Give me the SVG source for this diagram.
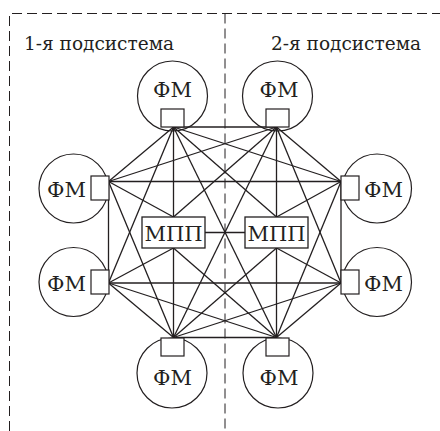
<svg xmlns="http://www.w3.org/2000/svg" width="440" height="431" viewBox="0 0 440 431">
<style>
.dash{fill:none;stroke:#231f20;stroke-width:1;stroke-dasharray:10 5}
.ln{stroke:#231f20;stroke-width:1.3;fill:none}
.circ{fill:none;stroke:#231f20;stroke-width:1.2}
.sq{fill:#fff;stroke:#231f20;stroke-width:1.2}
.box{fill:#fff;stroke:#231f20;stroke-width:1.3}
.t{font-family:"DejaVu Serif","Liberation Serif",serif;font-size:21px;fill:#231f20;text-anchor:middle}
.h{font-family:"DejaVu Serif","Liberation Serif",serif;font-size:18.5px;fill:#231f20}
</style>
<rect width="440" height="431" fill="#fff"/>
<g id="frame">
<path class="dash" d="M9.5,431 V13.5 H440"/>
<path class="dash" d="M225,13.5 V431"/>
<text class="h" x="24" y="50">1-я подсистема</text>
<text class="h" x="271" y="50">2-я подсистема</text>
</g>
<g id="connectors">
<line class="ln" x1="173.5" y1="127" x2="276.5" y2="127"/>
<line class="ln" x1="173.5" y1="127" x2="341" y2="181.5"/>
<line class="ln" x1="173.5" y1="127" x2="276.5" y2="337.5"/>
<line class="ln" x1="173.5" y1="127" x2="108.5" y2="283"/>
<line class="ln" x1="173.5" y1="127" x2="108.5" y2="181.5"/>
<line class="ln" x1="276.5" y1="127" x2="341" y2="181.5"/>
<line class="ln" x1="276.5" y1="127" x2="341" y2="283"/>
<line class="ln" x1="276.5" y1="127" x2="173.5" y2="337.5"/>
<line class="ln" x1="276.5" y1="127" x2="108.5" y2="181.5"/>
<line class="ln" x1="341" y1="181.5" x2="341" y2="283"/>
<line class="ln" x1="341" y1="181.5" x2="276.5" y2="337.5"/>
<line class="ln" x1="341" y1="181.5" x2="108.5" y2="181.5"/>
<line class="ln" x1="341" y1="283" x2="276.5" y2="337.5"/>
<line class="ln" x1="341" y1="283" x2="173.5" y2="337.5"/>
<line class="ln" x1="341" y1="283" x2="108.5" y2="283"/>
<line class="ln" x1="276.5" y1="337.5" x2="173.5" y2="337.5"/>
<line class="ln" x1="276.5" y1="337.5" x2="108.5" y2="283"/>
<line class="ln" x1="173.5" y1="337.5" x2="108.5" y2="283"/>
<line class="ln" x1="173.5" y1="337.5" x2="108.5" y2="181.5"/>
<line class="ln" x1="108.5" y1="283" x2="108.5" y2="181.5"/>
<line class="ln" x1="173.5" y1="217" x2="173.5" y2="127"/>
<line class="ln" x1="173.5" y1="217" x2="276.5" y2="127"/>
<line class="ln" x1="173.5" y1="217" x2="108.5" y2="181.5"/>
<line class="ln" x1="173.5" y1="248" x2="173.5" y2="337.5"/>
<line class="ln" x1="173.5" y1="248" x2="276.5" y2="337.5"/>
<line class="ln" x1="173.5" y1="248" x2="108.5" y2="283"/>
<line class="ln" x1="276.5" y1="217" x2="276.5" y2="127"/>
<line class="ln" x1="276.5" y1="217" x2="173.5" y2="127"/>
<line class="ln" x1="276.5" y1="217" x2="341" y2="181.5"/>
<line class="ln" x1="276.5" y1="248" x2="276.5" y2="337.5"/>
<line class="ln" x1="276.5" y1="248" x2="173.5" y2="337.5"/>
<line class="ln" x1="276.5" y1="248" x2="341" y2="283"/>
<line class="ln" x1="205" y1="232.5" x2="245" y2="232.5"/>
</g>
<g id="fm-tl">
<circle class="circ" cx="172.5" cy="96" r="35"/>
<rect class="sq" x="161" y="109" width="23" height="18"/>
<text class="t" x="172.5" y="97">ФМ</text>
</g>
<g id="fm-tr">
<circle class="circ" cx="277.5" cy="96" r="35"/>
<rect class="sq" x="266" y="109" width="23" height="18"/>
<text class="t" x="279" y="97">ФМ</text>
</g>
<g id="fm-l1">
<circle class="circ" cx="73.5" cy="188.5" r="34.5"/>
<rect class="sq" x="91" y="176" width="18" height="24"/>
<text class="t" x="66.5" y="196.5">ФМ</text>
</g>
<g id="fm-l2">
<circle class="circ" cx="73.5" cy="282" r="34.5"/>
<rect class="sq" x="91" y="270" width="18" height="24"/>
<text class="t" x="66.5" y="290.5">ФМ</text>
</g>
<g id="fm-r1">
<circle class="circ" cx="377" cy="188.5" r="34.5"/>
<rect class="sq" x="341" y="176" width="18" height="24"/>
<text class="t" x="383.5" y="196.5">ФМ</text>
</g>
<g id="fm-r2">
<circle class="circ" cx="377" cy="282" r="34.5"/>
<rect class="sq" x="341" y="270" width="18" height="24"/>
<text class="t" x="383.5" y="290.5">ФМ</text>
</g>
<g id="fm-bl">
<circle class="circ" cx="172" cy="373" r="35"/>
<rect class="sq" x="161" y="338" width="23" height="18"/>
<text class="t" x="172.5" y="385">ФМ</text>
</g>
<g id="fm-br">
<circle class="circ" cx="278" cy="373" r="35"/>
<rect class="sq" x="266" y="338" width="23" height="18"/>
<text class="t" x="279" y="385">ФМ</text>
</g>
<g id="mpp-left">
<rect class="box" x="142" y="217" width="63" height="31"/>
<text class="t" x="173.5" y="241">МПП</text>
</g>
<g id="mpp-right">
<rect class="box" x="245" y="217" width="63" height="31"/>
<text class="t" x="276.5" y="241">МПП</text>
</g>
</svg>
